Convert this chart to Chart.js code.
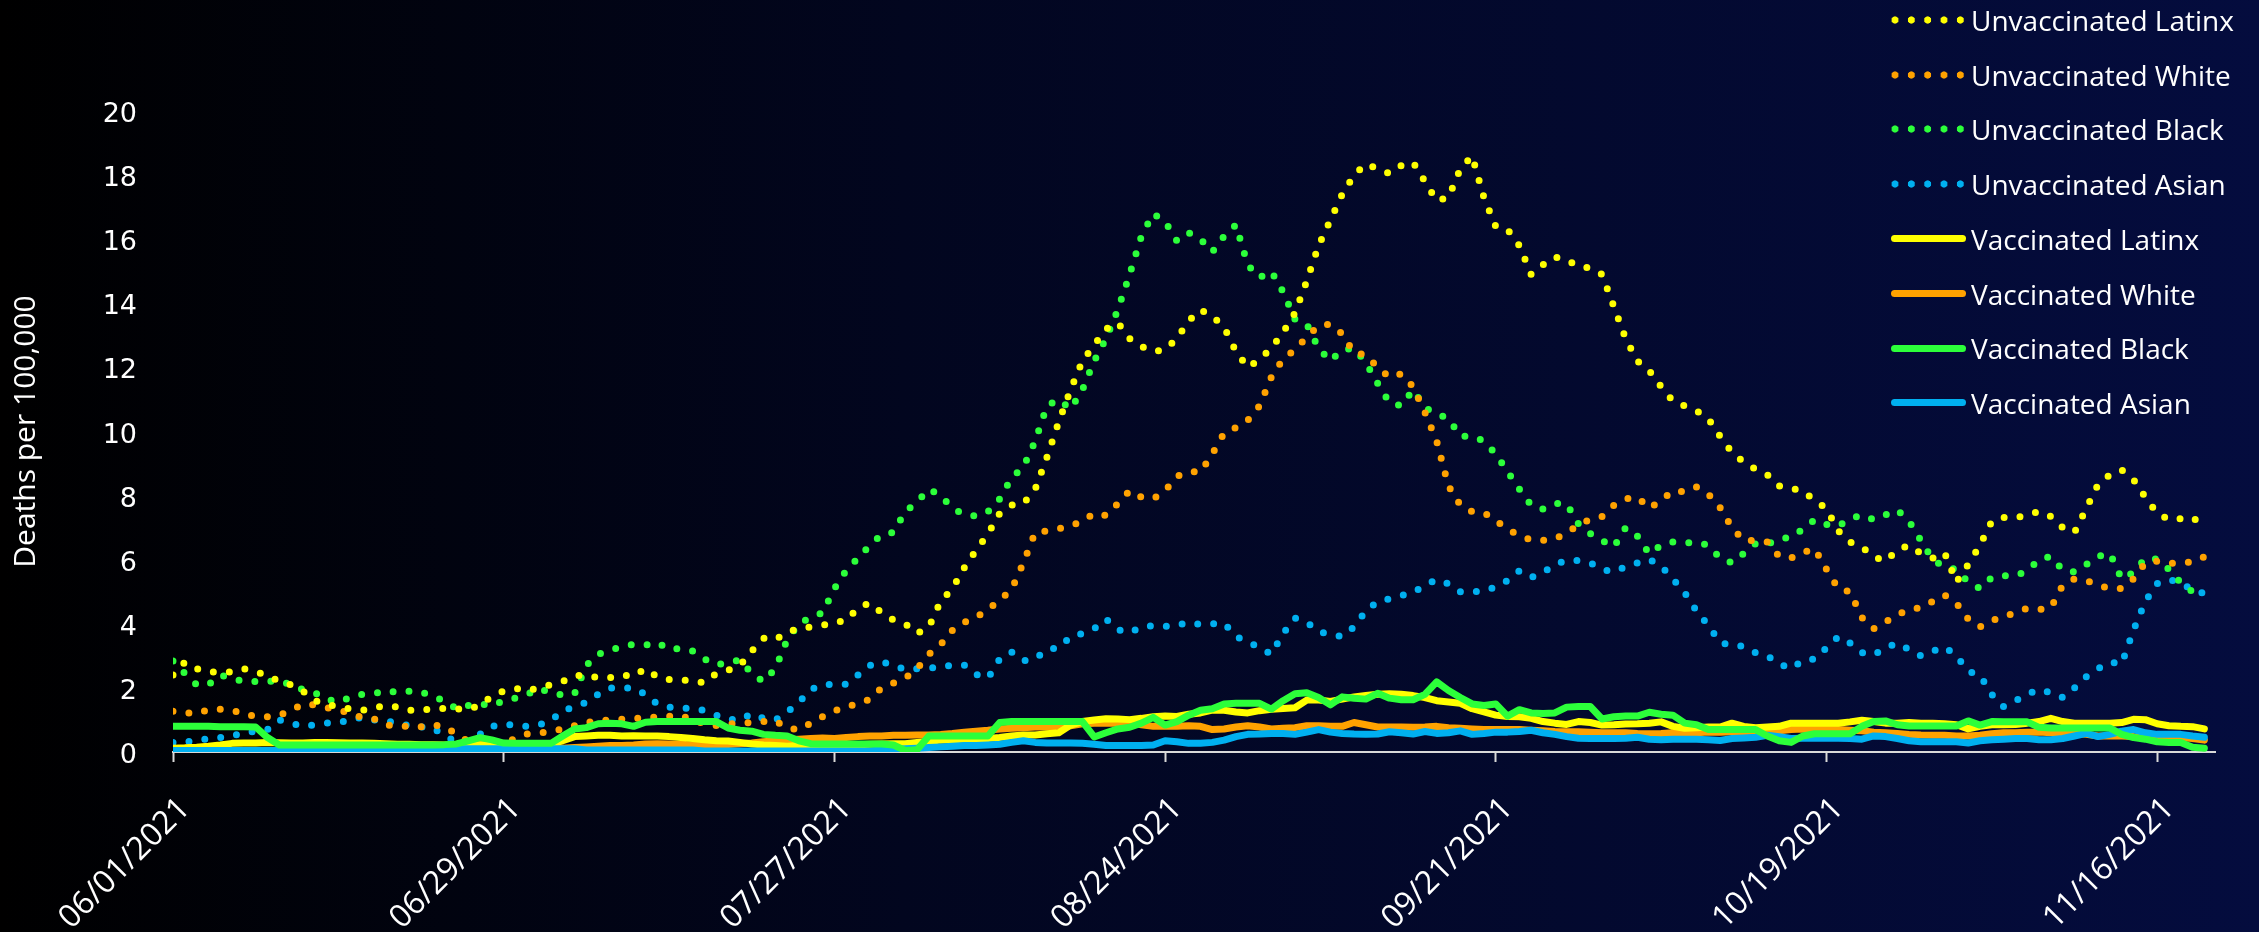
<!DOCTYPE html>
<html>
<head>
<meta charset="utf-8">
<title>Deaths per 100,000</title>
<script src="https://cdn.jsdelivr.net/npm/chart.js@4.4.1/dist/chart.umd.min.js"></script>
<style>
	html, body { margin: 0; padding: 0; }
	body {
		width: 2259px; height: 932px; overflow: hidden; position: relative;
		background: linear-gradient(to right, #000000 0%, #02061f 40%, #040c3e 100%);
		font-family: 'Open Sans', sans-serif;
	}
	#deathChart { position: absolute; left: 0; top: 0; }
	#legend { position: absolute; left: 1891px; top: 0; }
	.legend-item { position: absolute; left: 0; height: 40px; display: flex; align-items: center; white-space: nowrap; }
	.legend-mark { width: 75px; height: 8px; margin-right: 5px; flex: none; }
	.legend-text { color: #ffffff; font-size: 28px; line-height: 40px; }
</style>
</head>
<body>
<canvas id="deathChart" width="2259" height="932"></canvas>
<div id="legend"></div>
<script>
'use strict';

// tick labels, one every 28 days from 06/01/2021
const tickLabels = ['06/01/2021', '06/29/2021', '07/27/2021', '08/24/2021', '09/21/2021', '10/19/2021', '11/16/2021'];

// daily values, day 0 = 06/01/2021
const uLatinx = [
	2.4, 2.8, 2.6, 2.5, 2.5, 2.5, 2.6, 2.5, 2.4, 2.2,
	2.1, 1.9, 1.6, 1.5, 1.4, 1.35, 1.3, 1.38, 1.45, 1.4,
	1.3, 1.3, 1.35, 1.36, 1.34, 1.34, 1.45, 1.75, 1.9, 1.98,
	1.92, 2.0, 2.1, 2.2, 2.38, 2.4, 2.32, 2.32, 2.4, 2.36,
	2.6, 2.35, 2.26, 2.25, 2.22, 2.16, 2.45, 2.55, 2.7, 3.15,
	3.55, 3.5, 3.75, 3.85, 3.9, 3.95, 4.05, 4.1, 4.5, 4.65,
	4.35, 4.12, 4.0, 3.7, 3.9, 4.7, 5.1, 5.75, 6.3, 6.8,
	7.45, 7.7, 7.75, 8.2, 9.2, 10.3, 11.3, 12.2, 12.7, 13.2,
	13.4, 12.9, 12.65, 12.5, 12.55, 12.9, 13.45, 13.8, 13.6, 13.25,
	12.5, 12.0, 12.25, 12.6, 13.1, 13.7, 14.7, 15.8, 16.6, 17.4,
	18.0, 18.35, 18.2, 18.05, 18.3, 18.4, 17.8, 17.2, 17.3, 18.2,
	18.6, 17.3, 16.4, 16.3, 15.8, 14.9, 15.2, 15.45, 15.35, 15.15,
	15.1, 14.9, 13.9, 12.9, 12.2, 11.9, 11.4, 10.95, 10.8, 10.65,
	10.4, 9.85, 9.35, 9.05, 8.82, 8.65, 8.3, 8.22, 8.15, 7.85,
	7.6, 6.9, 6.55, 6.4, 6.1, 5.95, 6.3, 6.45, 6.2, 6.05,
	6.22, 5.3, 5.85, 6.45, 7.2, 7.32, 7.3, 7.4, 7.5, 7.35,
	7.0, 6.85, 7.6, 8.35, 8.65, 8.8, 8.5, 7.95, 7.45, 7.25,
	7.28, 7.2, 7.45
];

const uWhite = [
	1.27, 1.22, 1.2, 1.32, 1.33, 1.3, 1.2, 1.1, 1.1, 1.15,
	1.3, 1.5, 1.47, 1.38, 1.32, 1.2, 1.08, 1.04, 0.85, 0.79,
	0.81, 0.79, 0.84, 0.8, 0.55, 0.33, 0.3, 0.3, 0.33, 0.4,
	0.56, 0.59, 0.64, 0.72, 0.82, 0.92, 0.98, 1.0, 1.02, 1.04,
	1.07, 1.09, 1.11, 1.14, 1.0, 0.88, 0.83, 0.87, 0.9, 0.92,
	0.95, 0.97, 0.75, 0.69, 0.9, 1.1, 1.28, 1.42, 1.5, 1.65,
	2.0, 2.15, 2.3, 2.6, 3.05, 3.35, 3.8, 4.05, 4.2, 4.45,
	4.74, 5.07, 5.9, 6.85, 6.9, 6.97, 7.06, 7.2, 7.45, 7.38,
	7.75, 8.15, 7.95, 7.9, 8.15, 8.6, 8.75, 8.73, 9.3, 9.95,
	10.12, 10.35, 10.8, 11.7, 12.27, 12.55, 12.95, 13.3, 13.35, 13.05,
	12.45, 12.4, 12.0, 11.7, 11.8, 11.4, 10.6, 9.7, 8.3, 7.7,
	7.5, 7.47, 7.22, 6.95, 6.75, 6.62, 6.6, 6.66, 6.82, 7.1,
	7.25, 7.35, 7.7, 7.9, 7.95, 7.6, 7.85, 8.15, 8.12, 8.27,
	8.05, 7.62, 7.0, 6.6, 6.6, 6.55, 6.1, 6.05, 6.22, 6.35,
	5.7, 5.1, 5.0, 4.2, 3.85, 4.06, 4.28, 4.45, 4.5, 4.7,
	4.9, 4.65, 4.15, 3.9, 4.1, 4.22, 4.35, 4.48, 4.44, 4.5,
	5.2, 5.4, 5.35, 5.2, 5.1, 5.1, 5.4, 5.9, 5.95, 5.88,
	5.92, 5.92, 6.09
];

const uBlack = [
	2.84, 2.45, 2.1, 2.1, 2.4, 2.3, 2.2, 2.2, 2.2, 2.22,
	2.1, 1.95, 1.85, 1.65, 1.56, 1.7, 1.8, 1.82, 1.92, 1.86,
	1.9, 1.88, 1.72, 1.6, 1.35, 1.45, 1.5, 1.44, 1.6, 1.68,
	1.8, 1.98, 1.85, 1.78, 1.82, 2.7, 3.05, 3.18, 3.28, 3.36,
	3.33, 3.42, 3.2, 3.23, 3.15, 2.9, 2.72, 2.78, 2.88, 2.45,
	2.2, 2.6, 3.5, 4.0, 4.2, 4.34, 5.1, 5.66, 6.05, 6.45,
	6.78, 6.85, 7.5, 7.8, 8.2, 8.0, 7.6, 7.42, 7.36, 7.5,
	7.9, 8.55, 8.89, 9.7, 10.8, 11.0, 10.7, 11.3, 12.2, 12.9,
	13.8, 14.9, 16.1, 16.8, 16.55, 15.95, 16.2, 16.0, 15.6, 16.1,
	16.45, 15.2, 14.8, 15.0, 14.35, 13.5, 13.35, 12.6, 12.2, 12.55,
	12.6, 12.15, 11.5, 10.9, 10.8, 11.3, 10.75, 10.55, 10.4, 9.85,
	9.85, 9.7, 9.3, 8.75, 8.2, 7.7, 7.58, 7.75, 7.75, 7.12,
	6.82, 6.6, 6.4, 7.0, 6.73, 6.18, 6.45, 6.55, 6.52, 6.54,
	6.45, 6.05, 5.9, 6.2, 6.5, 6.48, 6.65, 6.7, 6.95, 7.25,
	7.1, 7.05, 7.28, 7.39, 7.25, 7.4, 7.55, 7.2, 6.6, 6.0,
	5.78, 5.7, 5.3, 5.1, 5.45, 5.5, 5.5, 5.65, 6.0, 6.1,
	5.68, 5.62, 5.85, 6.1, 6.2, 5.4, 5.6, 6.05, 6.02, 5.7,
	5.28, 5.0, 4.8
];

const uAsian = [
	0.3, 0.32, 0.35, 0.42, 0.45, 0.5, 0.6, 0.65, 0.7, 1.0,
	0.9, 0.8, 0.85, 0.9, 0.92, 1.0, 1.08, 1.0, 0.97, 0.9,
	0.82, 0.78, 0.75, 0.5, 0.32, 0.35, 0.55, 0.8, 0.87, 0.83,
	0.8, 0.85, 0.98, 1.3, 1.4, 1.55, 1.8, 2.0, 2.0, 2.0,
	1.8, 1.5, 1.4, 1.38, 1.34, 1.3, 1.15, 1.02, 1.0, 1.2,
	1.05, 1.0, 1.25, 1.55, 1.95, 2.1, 2.11, 2.11, 2.4, 2.7,
	2.82, 2.7, 2.58, 2.6, 2.61, 2.66, 2.71, 2.71, 2.42, 2.3,
	2.9, 3.12, 2.85, 2.9, 3.2, 3.25, 3.6, 3.7, 3.85, 4.15,
	3.82, 3.72, 3.9, 3.94, 3.92, 3.95, 4.05, 3.98, 4.0, 4.02,
	3.6, 3.45, 3.25, 3.05, 3.7, 4.18, 4.05, 3.75, 3.68, 3.6,
	3.9, 4.4, 4.7, 4.78, 4.88, 4.97, 5.2, 5.38, 5.25, 5.0,
	4.99, 5.03, 5.15, 5.35, 5.65, 5.45, 5.6, 5.85, 5.98, 5.97,
	5.9, 5.7, 5.62, 5.78, 5.9, 6.01, 5.8, 5.4, 4.97, 4.4,
	3.95, 3.42, 3.32, 3.3, 3.1, 3.0, 2.75, 2.6, 2.86, 2.9,
	3.25, 3.6, 3.4, 3.1, 3.03, 3.25, 3.4, 3.2, 3.0, 3.15,
	3.28, 3.0, 2.52, 2.4, 1.8, 1.42, 1.6, 1.8, 1.95, 1.85,
	1.7, 2.0, 2.35, 2.6, 2.8, 2.75, 3.8, 4.7, 5.25, 5.38,
	5.28, 5.05, 4.95
];

const vLatinx = [
	0.12, 0.13, 0.15, 0.18, 0.22, 0.27, 0.28, 0.28, 0.3, 0.29,
	0.28, 0.28, 0.3, 0.3, 0.29, 0.28, 0.28, 0.27, 0.26, 0.24,
	0.24, 0.23, 0.23, 0.22, 0.22, 0.22, 0.22, 0.22, 0.22, 0.22,
	0.22, 0.22, 0.25, 0.35, 0.48, 0.5, 0.52, 0.52, 0.5, 0.51,
	0.5, 0.5, 0.48, 0.45, 0.42, 0.38, 0.35, 0.34, 0.3, 0.25,
	0.22, 0.2, 0.18, 0.2, 0.22, 0.22, 0.2, 0.22, 0.23, 0.24,
	0.25, 0.26, 0.26, 0.3, 0.33, 0.37, 0.38, 0.4, 0.42, 0.42,
	0.45, 0.5, 0.53, 0.53, 0.57, 0.6, 0.84, 0.95, 1.0, 1.04,
	1.03, 1.01, 1.05, 1.1, 1.12, 1.11, 1.18, 1.22, 1.31, 1.3,
	1.25, 1.22, 1.29, 1.33, 1.36, 1.38, 1.62, 1.62, 1.58, 1.65,
	1.72, 1.76, 1.8, 1.82, 1.8, 1.76, 1.7, 1.6, 1.56, 1.52,
	1.35, 1.25, 1.15, 1.11, 1.1, 1.05, 0.95, 0.9, 0.86, 0.95,
	0.92, 0.84, 0.85, 0.87, 0.88, 0.9, 0.94, 0.8, 0.74, 0.76,
	0.78, 0.78, 0.9, 0.8, 0.76, 0.78, 0.8, 0.9, 0.9, 0.9,
	0.9, 0.9, 0.94, 0.99, 0.95, 0.9, 0.9, 0.92, 0.9, 0.9,
	0.88, 0.85, 0.72, 0.8, 0.85, 0.85, 0.86, 0.9, 0.95, 1.05,
	0.95, 0.9, 0.9, 0.9, 0.9, 0.92, 1.02, 1.01, 0.88, 0.82,
	0.8, 0.79, 0.72
];

const vWhite = [
	0.05, 0.05, 0.05, 0.05, 0.05, 0.05, 0.05, 0.05, 0.05, 0.05,
	0.05, 0.05, 0.05, 0.05, 0.05, 0.05, 0.05, 0.05, 0.05, 0.05,
	0.05, 0.05, 0.04, 0.04, 0.04, 0.04, 0.04, 0.04, 0.05, 0.05,
	0.06, 0.08, 0.1, 0.12, 0.14, 0.16, 0.18, 0.2, 0.2, 0.22,
	0.25, 0.26, 0.25, 0.24, 0.22, 0.22, 0.22, 0.23, 0.26, 0.28,
	0.32, 0.35, 0.38, 0.4, 0.42, 0.44, 0.42, 0.45, 0.48, 0.5,
	0.5, 0.52, 0.52, 0.53, 0.53, 0.55, 0.58, 0.62, 0.65, 0.68,
	0.72, 0.74, 0.76, 0.78, 0.78, 0.8, 0.82, 0.88, 0.9, 0.9,
	0.9, 0.9, 0.85, 0.8, 0.8, 0.8, 0.82, 0.8, 0.7, 0.72,
	0.78, 0.82, 0.78, 0.72, 0.74, 0.76, 0.82, 0.82, 0.8, 0.8,
	0.92, 0.85, 0.78, 0.78, 0.78, 0.77, 0.78, 0.8, 0.76, 0.74,
	0.72, 0.7, 0.7, 0.7, 0.7, 0.68, 0.66, 0.64, 0.63, 0.63,
	0.62, 0.6, 0.6, 0.6, 0.58, 0.57, 0.58, 0.6, 0.6, 0.6,
	0.62, 0.62, 0.63, 0.64, 0.64, 0.64, 0.66, 0.7, 0.72, 0.7,
	0.7, 0.7, 0.68, 0.66, 0.62, 0.6, 0.58, 0.55, 0.53, 0.52,
	0.52, 0.5, 0.5, 0.52, 0.57, 0.6, 0.6, 0.62, 0.62, 0.6,
	0.58, 0.58, 0.55, 0.5, 0.5, 0.5, 0.48, 0.45, 0.45, 0.45,
	0.45, 0.42, 0.37
];

const vBlack = [
	0.8, 0.8, 0.8, 0.8, 0.79, 0.79, 0.79, 0.78, 0.45, 0.22,
	0.22, 0.22, 0.22, 0.22, 0.22, 0.22, 0.22, 0.22, 0.22, 0.22,
	0.22, 0.22, 0.22, 0.23, 0.25, 0.35, 0.45, 0.38, 0.28, 0.27,
	0.27, 0.27, 0.27, 0.5, 0.72, 0.76, 0.88, 0.9, 0.88, 0.8,
	0.93, 0.95, 0.95, 0.95, 0.95, 0.95, 0.95, 0.75, 0.68, 0.65,
	0.55, 0.52, 0.5, 0.35, 0.26, 0.25, 0.25, 0.25, 0.25, 0.25,
	0.25, 0.22, 0.05, 0.07, 0.5, 0.5, 0.5, 0.5, 0.5, 0.5,
	0.92, 0.95, 0.95, 0.95, 0.95, 0.95, 0.95, 0.95, 0.47, 0.6,
	0.72, 0.77, 0.9, 1.08, 0.84, 0.95, 1.15, 1.3, 1.35, 1.5,
	1.52, 1.52, 1.52, 1.34, 1.6, 1.82, 1.85, 1.7, 1.47, 1.72,
	1.68, 1.65, 1.83, 1.68, 1.63, 1.63, 1.8, 2.19, 1.92, 1.7,
	1.5, 1.45, 1.5, 1.12, 1.32, 1.22, 1.2, 1.22, 1.4, 1.42,
	1.42, 1.03, 1.1, 1.12, 1.12, 1.24, 1.18, 1.15, 0.9, 0.85,
	0.7, 0.7, 0.7, 0.7, 0.7, 0.5, 0.35, 0.3, 0.5, 0.57,
	0.57, 0.57, 0.57, 0.8, 0.95, 0.97, 0.85, 0.81, 0.81, 0.81,
	0.81, 0.81, 0.97, 0.84, 0.95, 0.94, 0.94, 0.94, 0.77, 0.75,
	0.75, 0.75, 0.75, 0.75, 0.75, 0.55, 0.45, 0.4, 0.32, 0.3,
	0.3, 0.15, 0.12
];

const vAsian = [
	0.05, 0.05, 0.05, 0.05, 0.05, 0.05, 0.05, 0.05, 0.05, 0.05,
	0.05, 0.05, 0.05, 0.05, 0.05, 0.05, 0.05, 0.05, 0.05, 0.05,
	0.05, 0.1, 0.1, 0.1, 0.1, 0.1, 0.1, 0.1, 0.1, 0.1,
	0.1, 0.1, 0.1, 0.1, 0.1, 0.06, 0.06, 0.06, 0.06, 0.06,
	0.06, 0.06, 0.06, 0.06, 0.06, 0.03, 0.03, 0.03, 0.03, 0.03,
	0.03, 0.03, 0.03, 0.03, 0.03, 0.03, 0.03, 0.03, 0.03, 0.03,
	0.06, 0.08, 0.1, 0.12, 0.14, 0.16, 0.18, 0.2, 0.2, 0.22,
	0.24, 0.3, 0.35, 0.3, 0.28, 0.28, 0.28, 0.27, 0.24, 0.2,
	0.2, 0.2, 0.2, 0.22, 0.35, 0.32, 0.27, 0.27, 0.3, 0.37,
	0.48, 0.55, 0.56, 0.58, 0.58, 0.55, 0.62, 0.7, 0.62, 0.58,
	0.56, 0.55, 0.56, 0.63, 0.6, 0.56, 0.64, 0.58, 0.6, 0.66,
	0.55, 0.58, 0.62, 0.62, 0.64, 0.68, 0.6, 0.55, 0.48, 0.43,
	0.42, 0.42, 0.42, 0.43, 0.46, 0.4, 0.38, 0.4, 0.4, 0.4,
	0.38, 0.36, 0.42, 0.44, 0.46, 0.52, 0.48, 0.42, 0.43, 0.43,
	0.43, 0.43, 0.42, 0.4, 0.5, 0.48, 0.42, 0.35, 0.32, 0.32,
	0.32, 0.32, 0.28, 0.35, 0.38, 0.4, 0.42, 0.42, 0.38, 0.38,
	0.42, 0.5, 0.58, 0.48, 0.55, 0.65, 0.7, 0.6, 0.55, 0.55,
	0.55, 0.5, 0.46
];

// days since 06/01/2021, used as x values
const dayIndex = uLatinx.map((v, i) => i);

const COLOR_YELLOW = '#ffff00';
const COLOR_ORANGE = '#ffa200';
const COLOR_GREEN = '#2cff3a';
const COLOR_BLUE = '#00b0f0';

// dotted series (unvaccinated)
function dottedSeries(label, data, color, order) {
	return {
		label: label,
		data: data,
		borderColor: color,
		backgroundColor: color,
		borderWidth: 7,
		borderDash: [0, 16],
		borderCapStyle: 'round',
		borderJoinStyle: 'round',
		pointRadius: 0,
		fill: false,
		order: order,
		dotted: true
	};
}

// solid series (vaccinated)
function solidSeries(label, data, color, order) {
	return {
		label: label,
		data: data,
		borderColor: color,
		backgroundColor: color,
		borderWidth: 7,
		borderCapStyle: 'round',
		borderJoinStyle: 'round',
		pointRadius: 0,
		fill: false,
		order: order,
		dotted: false
	};
}

const datasets = [
	dottedSeries('Unvaccinated Latinx', uLatinx, COLOR_YELLOW, 5),
	dottedSeries('Unvaccinated White', uWhite, COLOR_ORANGE, 6),
	dottedSeries('Unvaccinated Black', uBlack, COLOR_GREEN, 7),
	dottedSeries('Unvaccinated Asian', uAsian, COLOR_BLUE, 8),
	solidSeries('Vaccinated Latinx', vLatinx, COLOR_YELLOW, 3),
	solidSeries('Vaccinated White', vWhite, COLOR_ORANGE, 4),
	solidSeries('Vaccinated Black', vBlack, COLOR_GREEN, 1),
	solidSeries('Vaccinated Asian', vAsian, COLOR_BLUE, 2)
];

// legend as html, top right
function buildLegend() {
	const legend = document.getElementById('legend');
	datasets.forEach((ds, i) => {
		const item = document.createElement('div');
		item.className = 'legend-item';
		item.style.top = (i * 54.7) + 'px';

		const mark = document.createElement('div');
		mark.className = 'legend-mark';
		if (ds.dotted) {
			mark.style.backgroundImage = 'radial-gradient(circle, ' + ds.borderColor + ' 0 3.3px, transparent 3.9px)';
			mark.style.backgroundSize = '16.33px 8px';
			mark.style.backgroundPosition = '-4.17px 0';
			mark.style.backgroundRepeat = 'repeat-x';
		} else {
			mark.style.height = '7px';
			mark.style.borderRadius = '4px';
			mark.style.background = ds.borderColor;
		}

		const text = document.createElement('span');
		text.className = 'legend-text';
		text.textContent = ds.label;

		item.appendChild(mark);
		item.appendChild(text);
		legend.appendChild(item);
	});
}

function initDeathChart() {
	const death_chart = document.getElementById('deathChart');
	if (!death_chart) return;

	new Chart(death_chart, {
		type: 'line',
		data: {
			labels: dayIndex,
			datasets: datasets
		},
		options: {
			responsive: false,
			animation: false,
			layout: {
				padding: { left: 0, right: 44, top: 111, bottom: 0 }
			},
			plugins: {
				legend: { display: false },
				title: { display: false },
				tooltip: { enabled: false }
			},
			elements: {
				point: { radius: 0 },
				line: { tension: 0 }
			},
			scales: {
				x: {
					type: 'linear',
					min: 0,
					max: 172.9,
					afterFit: function(scale) {
						scale.height = 180;
					},
					border: { display: true, color: '#d9d9d9', width: 2 },
					grid: {
						drawOnChartArea: false,
						drawTicks: true,
						tickLength: 10,
						tickWidth: 2,
						tickColor: '#d9d9d9',
						color: '#d9d9d9'
					},
					ticks: {
						stepSize: 28,
						includeBounds: false,
						autoSkip: false,
						maxRotation: 45,
						minRotation: 45,
						padding: 28,
						labelOffset: 12,
						color: '#ffffff',
						font: { family: 'Open Sans', size: 32 },
						callback: function(value) {
							const idx = value / 28;
							return Number.isInteger(idx) && tickLabels[idx] ? tickLabels[idx] : null;
						}
					}
				},
				y: {
					min: 0,
					max: 20,
					afterFit: function(scale) {
						scale.width = 173;
					},
					border: { display: false },
					grid: { display: false, drawTicks: false },
					ticks: {
						stepSize: 2,
						padding: 36,
						labelOffset: 4,
						color: '#ffffff',
						font: { family: 'DejaVu Sans', size: 27 }
					},
					title: {
						display: true,
						text: 'Deaths per 100,000',
						color: '#ffffff',
						font: { family: 'Open Sans', size: 30 },
						padding: { top: 8, bottom: 0 }
					}
				}
			}
		}
	});
}

document.addEventListener('DOMContentLoaded', function() {
	buildLegend();
	initDeathChart();
});
</script>
</body>
</html>
